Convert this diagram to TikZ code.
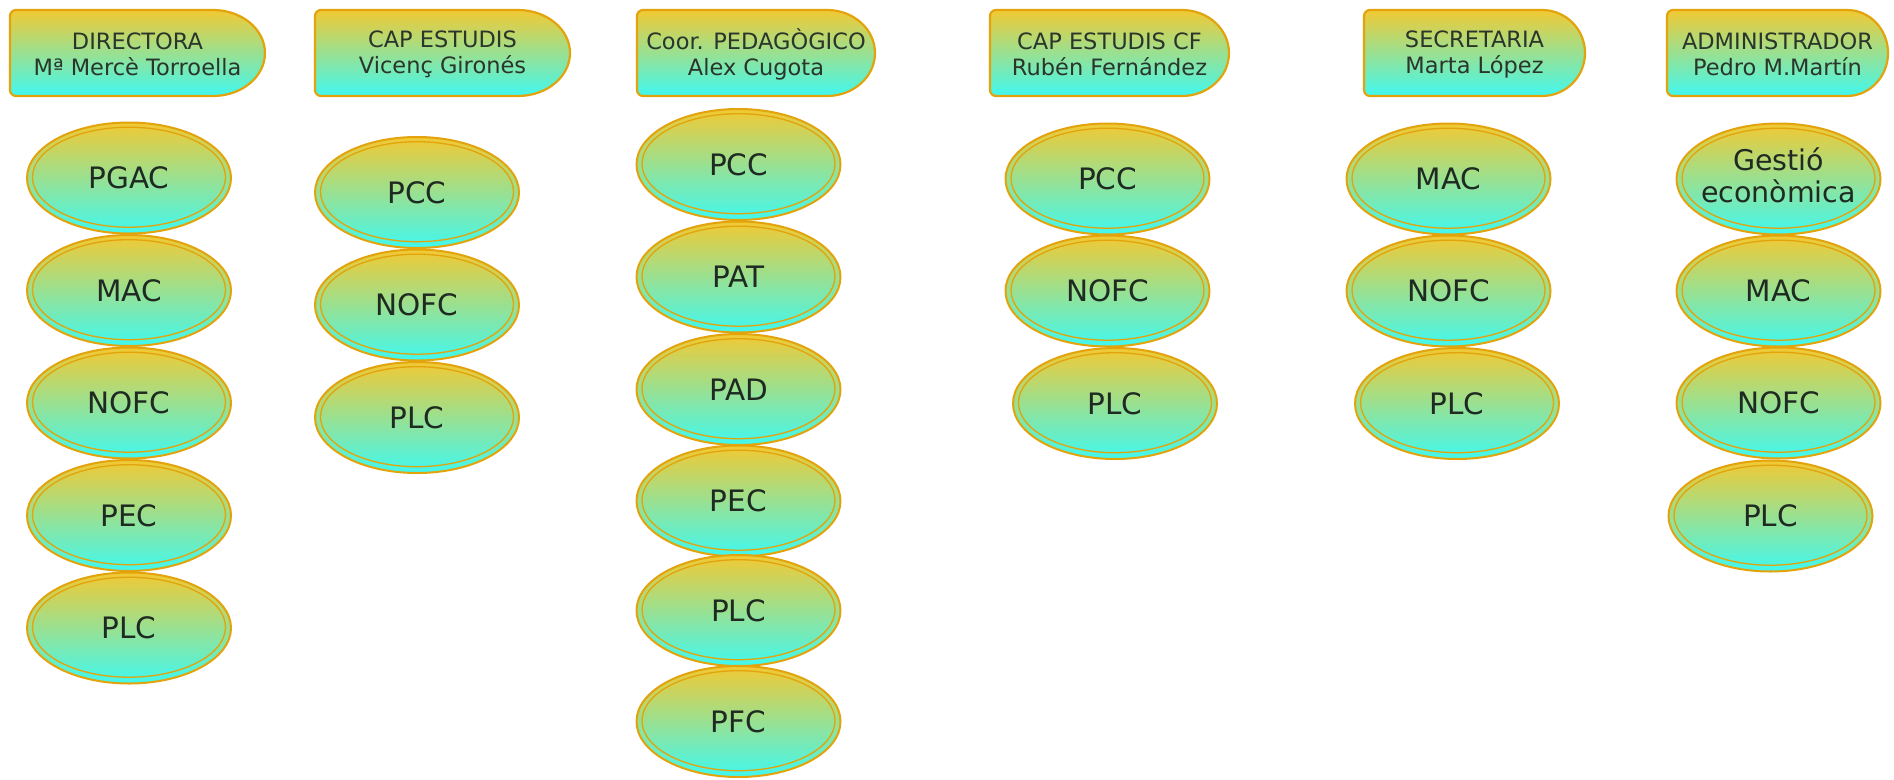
\documentclass[tikz,border=0pt]{standalone}
\usepackage{fontspec}
\setmainfont{DejaVu Sans}
\usetikzlibrary{shapes.geometric}
\definecolor{topc}{HTML}{F2C933}
\definecolor{botc}{HTML}{40F8F0}
\definecolor{rim}{HTML}{E2A30C}
\definecolor{ink}{HTML}{1E2A22}
\definecolor{hink}{HTML}{2A352C}
\tikzset{
  hdrshape/.style={draw=rim, line width=2.2pt, top color=topc, bottom color=botc},
  htxt/.style={align=center, text=hink, font=\fontsize{22.5}{26}\selectfont, inner sep=0pt},
  ell/.style={ellipse, draw=rim, line width=2pt, top color=topc, bottom color=botc,
    minimum width=204pt, minimum height=111pt, inner sep=0pt, outer sep=0pt,
    text=ink, font=\fontsize{29.5}{35}\selectfont,
    path picture={\draw[rim, line width=1.3pt] ([yshift=0.8pt]path picture bounding box.center) ellipse [x radius=96.5, y radius=50];}}
}
\newcommand{\hdrbox}[5]{% left, right, straight-end, name, text
  \path[hdrshape] (#3,-10) [rounded corners=6pt] -- (#1,-10) -- (#1,-96) [sharp corners] -- (#3,-96)
     arc[start angle=-90, end angle=90, x radius=#2-#3, y radius=43] -- cycle;
  \node[htxt] (#4) at ({(#1+#2)/2},-54.5) {#5};
}
\begin{document}
\begin{tikzpicture}[x=1pt,y=1pt]
\useasboundingbox (0,0) rectangle (1894,-779);
\fill[white] (0,0) rectangle (1894,-779);
% headers
\hdrbox{10}{265}{213}{h1}{DIRECTORA\\Mª Mercè Torroella}
\hdrbox{315}{570}{518}{h2}{CAP ESTUDIS\\Vicenç Gironés}
\hdrbox{637}{875}{827}{h3}{Coor. PEDAGÒGICO\\Alex Cugota}
\hdrbox{990}{1229}{1182}{h4}{CAP ESTUDIS CF\\Rubén Fernández}
\hdrbox{1364}{1585}{1542}{h5}{SECRETARIA\\Marta López}
\hdrbox{1667}{1888}{1847}{h6}{ADMINISTRADOR\\Pedro M.Martín}
% column 1
\node[ell] (a1) at (129,-178) {PGAC};
\node[ell] (a2) at (129,-290.5) {MAC};
\node[ell] (a3) at (129,-403) {NOFC};
\node[ell] (a4) at (129,-515.5) {PEC};
\node[ell] (a5) at (129,-628) {PLC};
% column 2
\node[ell] (b1) at (417,-192.5) {PCC};
\node[ell] (b2) at (417,-305) {NOFC};
\node[ell] (b3) at (417,-417.5) {PLC};
% column 3
\node[ell] (c1) at (738.5,-164.5) {PCC};
\node[ell] (c2) at (738.5,-277) {PAT};
\node[ell] (c3) at (738.5,-389.5) {PAD};
\node[ell] (c4) at (738.5,-501) {PEC};
\node[ell] (c5) at (738.5,-610.5) {PLC};
\node[ell] (c6) at (738.5,-721.5) {PFC};
% column 4
\node[ell] (d1) at (1107.5,-179) {PCC};
\node[ell] (d2) at (1107.5,-291) {NOFC};
\node[ell] (d3) at (1115,-403.5) {PLC};
% column 5
\node[ell] (e1) at (1448.5,-179) {MAC};
\node[ell] (e2) at (1448.5,-291) {NOFC};
\node[ell] (e3) at (1457,-403.5) {PLC};
% column 6
\node[ell] (f1) at (1778.5,-179) {\makebox[0pt]{\fontsize{28.5}{35}\selectfont\begin{tabular}{@{}c@{}}Gestió\\[-3pt]econòmica\end{tabular}}};
\node[ell] (f2) at (1778.5,-291) {MAC};
\node[ell] (f3) at (1778.5,-403) {NOFC};
\node[ell] (f4) at (1770.5,-516) {PLC};
\end{tikzpicture}
\end{document}
